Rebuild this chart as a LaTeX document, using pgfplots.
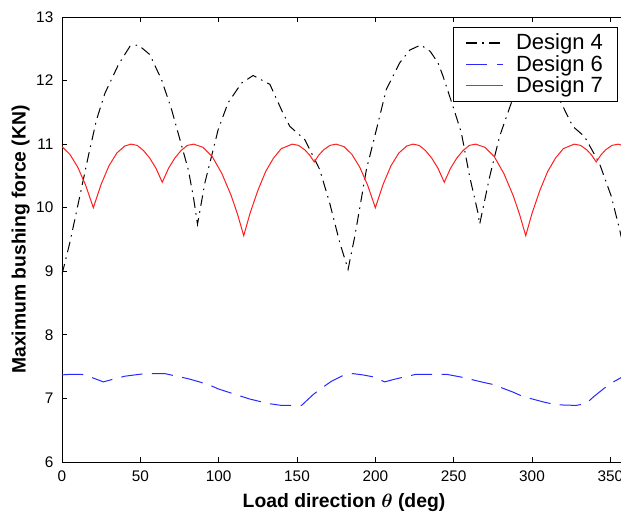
\documentclass[border=0pt]{standalone}
\usepackage{fontspec}
\setmainfont{Liberation Sans}
\usepackage{amsmath,bm}
\usepackage{pgfplots}
\pgfplotsset{compat=1.18}
\definecolor{MatBlue}{HTML}{2828FF}
\definecolor{MatRed}{HTML}{FF1E1E}

\begin{document}
\begin{tikzpicture}
\begin{axis}[
    scale only axis,
    width=423pt, height=333.75pt,
    xmin=0, xmax=360, ymin=6, ymax=13,
    xtick={0,50,...,350}, ytick={6,7,...,13},
    tick align=inside,
    major tick length=4pt,
    axis line style={line width=0.7pt},
    every tick/.style={black, line width=0.6pt},
    /pgf/number format/assume math mode=true,
    tick label style={font=\fontsize{11.5}{13}\selectfont},
    yticklabel style={xshift=-3pt},
    xticklabel style={yshift=-3pt},
    xlabel={Load direction $\bm{\theta}$ (deg)},
    ylabel={Maximum bushing force (KN)},
    xlabel style={yshift=-2pt},
    ylabel style={yshift=-2pt},
    label style={font=\bfseries\fontsize{14.5}{17}\selectfont},
    legend style={at={(1,1)}, anchor=north east, xshift=-6pt, yshift=-7.4pt,
        line width=0.6pt, fill=white,
        font=\fontsize{16.5}{18}\selectfont, row sep=-1.5pt, column sep=7pt,
        inner xsep=9pt, inner ysep=3pt},
    legend cell align=left,
    legend image code/.code={\draw[#1, line width=1pt] (0pt,0pt) -- (28pt,0pt);},
]
\coordinate (bl) at (rel axis cs:0,0);
\coordinate (tr) at (rel axis cs:1,1);

% Design 4
\addplot[draw=black, line width=0.75pt, dash pattern=on 8pt off 4pt on 1.2pt off 4pt] coordinates {
(0,8.95) (5,9.45) (10.4,10.07) (16.8,10.81) (22,11.38) (27.4,11.80) (36,12.25)
(43.4,12.54) (48.7,12.56) (56,12.41) (63.6,12.01) (70,11.54) (75.3,11.07)
(80.6,10.60) (83.8,10.18) (86.5,9.74) (91.2,10.39) (99.7,11.23) (106,11.65)
(114.6,11.96) (122,12.08) (132.7,11.94) (141,11.49) (145.4,11.28) (155,11.07)
(164.5,10.60) (170.9,10.07) (177.3,9.45) (182.6,9.03) (186.9,9.55) (194.3,10.60)
(200.7,11.23) (207,11.86) (215.6,12.28) (222,12.48) (229,12.56) (235,12.46)
(240,12.28) (243.2,12.07) (249.6,11.59) (254.9,11.18) (260.2,10.49) (265.5,9.92)
(266.6,9.74) (273,10.49) (279.3,11.12) (286.8,11.65) (294,11.96) (302,12.08)
(310,11.98) (317.6,11.70) (326,11.28) (333.5,11.12) (343,10.70) (350.6,10.18)
(356,9.65) (360,9.2)
};
\addlegendentry{Design 4}

% Design 6
\addplot[draw=MatBlue, line width=0.75pt, dash pattern=on 16pt off 7pt] coordinates {
(0,7.37) (6,7.38) (12.5,7.38) (20,7.32) (26.4,7.26) (33.8,7.31) (40.2,7.35)
(53,7.39) (65.7,7.39) (73.1,7.35) (80.6,7.31) (93.3,7.22) (99.7,7.15)
(113.5,7.04) (119.9,6.99) (131.6,6.92) (140.1,6.89) (152.9,6.89) (160.3,7.06)
(165.6,7.16) (172,7.27) (179.4,7.36) (185.8,7.39) (192,7.37) (198.5,7.34)
(206,7.26) (212,7.30) (218.8,7.34) (226.2,7.38) (239,7.38) (245.3,7.38)
(256,7.33) (267.6,7.26) (275,7.22) (287.8,7.10) (294.2,7.03) (308,6.94)
(315.4,6.90) (328.2,6.89) (334.5,6.92) (340,7.04) (346.1,7.16) (352.7,7.27)
(360,7.37)
};
\addlegendentry{Design 6}

% Design 7
\addplot[draw=MatRed, line width=0.75pt] coordinates {
(0,10.96) (5,10.84) (10,10.64) (15,10.36) (20,10.0) (25,10.37) (30,10.66)
(35,10.86) (40,10.97) (44,11.0) (48,10.98) (52,10.90) (56,10.78) (60,10.62)
(64,10.40) (68,10.62) (72,10.78) (76,10.90) (80,10.98) (84,11.0) (90,10.95)
(96,10.80) (102,10.54) (108,10.19) (112,9.90) (116,9.56) (120,9.91) (125,10.27)
(130,10.57) (135,10.78) (140,10.93) (147,11.0) (151,10.98) (155,10.91)
(158,10.83) (161,10.72) (164,10.83) (167,10.91) (171,10.98) (175,11.0)
(180,10.96) (185,10.84) (190,10.64) (195,10.36) (200,10.0) (205,10.37)
(210,10.66) (215,10.86) (220,10.97) (224,11.0) (228,10.98) (232,10.90)
(236,10.78) (240,10.62) (244,10.40) (248,10.62) (252,10.78) (256,10.90)
(260,10.98) (264,11.0) (270,10.95) (276,10.80) (282,10.54) (288,10.19)
(292,9.90) (296,9.56) (300,9.91) (305,10.27) (310,10.57) (315,10.78)
(320,10.93) (327,11.0) (331,10.98) (335,10.91) (338,10.83) (341,10.72)
(344,10.83) (347,10.91) (351,10.98) (355,11.0) (360,10.96)
};
\addlegendentry{Design 7}
\end{axis}
\pgfresetboundingbox
\path[use as bounding box] ([xshift=-46.5pt,yshift=-39.5pt]bl) rectangle ([xshift=-3.75pt,yshift=12.75pt]tr);
\end{tikzpicture}
\end{document}
